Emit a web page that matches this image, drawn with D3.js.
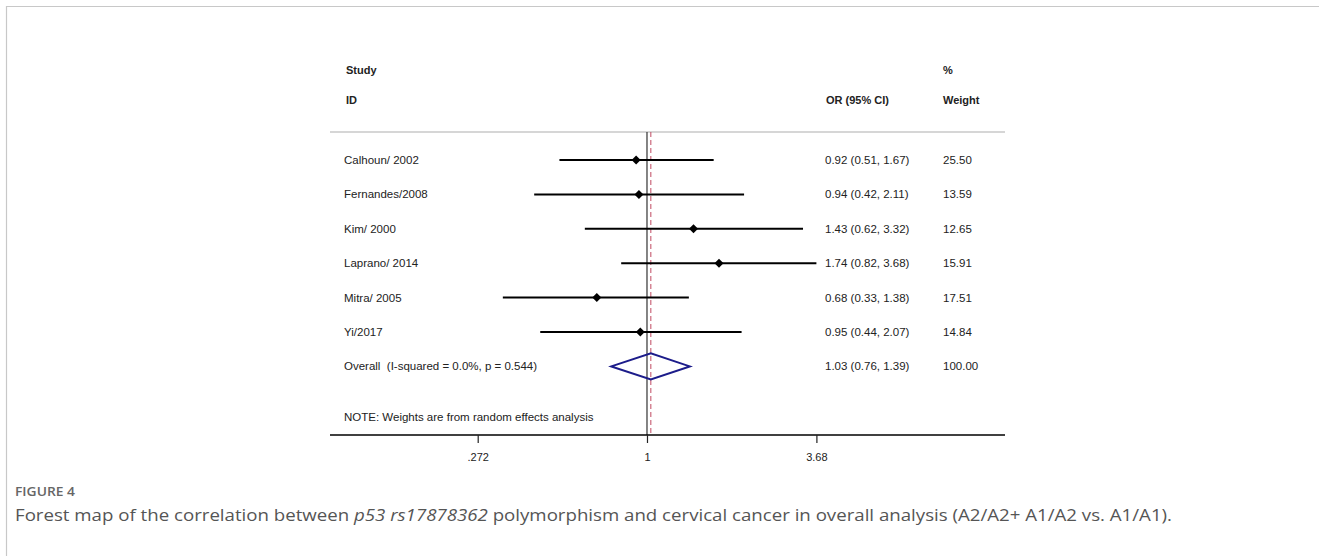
<!DOCTYPE html>
<html>
<head>
<meta charset="utf-8">
<script src="https://cdn.jsdelivr.net/npm/d3@7"></script>
<style>
  body { margin: 0; background: #fff; }
  svg text { font-family: "Liberation Sans", Arial, sans-serif; white-space: pre; }
  svg text.cap { font-family: "Open Sans", "Noto Sans", sans-serif; }
</style>
</head>
<body>
<svg id="chart" width="1319" height="556"></svg>
<script>
var studies = ["Calhoun/ 2002", "Fernandes/2008", "Kim/ 2000", "Laprano/ 2014", "Mitra/ 2005", "Yi/2017"];
var orValues = [0.92, 0.94, 1.43, 1.74, 0.68, 0.95];
var lowerCI = [0.51, 0.42, 0.62, 0.82, 0.33, 0.44];
var upperCI = [1.67, 2.11, 3.32, 3.68, 1.38, 2.07];
var weights = ["25.50", "13.59", "12.65", "15.91", "17.51", "14.84"];
var overall = {label: "Overall  (I-squared = 0.0%, p = 0.544)", or: 1.03, lo: 0.76, hi: 1.39, weight: "100.00"};
var tickValues = [0.272, 1, 3.68];
var tickLabels = [".272", "1", "3.68"];

var svg = d3.select("#chart");

var left = 330, right = 1005,
    rowTop = 160, rowStep = 34.4,
    axisY = 435, topLineY = 132,
    nameX = 344, ciX = 825, wtX = 943;

var x = d3.scaleLog()
    .domain([0.272, 3.68])
    .range([477.7, 816.4]);

var fmt = d3.format(".2f");
function ciText(o, l, h) { return fmt(o) + " (" + fmt(l) + ", " + fmt(h) + ")"; }

// page border
svg.append("line").attr("x1", 6).attr("x2", 1319).attr("y1", 6.5).attr("y2", 6.5)
    .attr("stroke", "#c8c8c8").attr("stroke-width", 1.2);
svg.append("line").attr("x1", 6.5).attr("x2", 6.5).attr("y1", 6).attr("y2", 556)
    .attr("stroke", "#c8c8c8").attr("stroke-width", 1.2);

// header
var head = svg.append("g").attr("font-size", 11).attr("font-weight", "bold").attr("fill", "#222");
head.append("text").attr("x", nameX + 2).attr("y", 74).text("Study");
head.append("text").attr("x", nameX + 2).attr("y", 104).text("ID");
head.append("text").attr("x", ciX + 1).attr("y", 104).text("OR (95% CI)");
head.append("text").attr("x", wtX).attr("y", 74).text("%");
head.append("text").attr("x", wtX).attr("y", 104).text("Weight");

svg.append("line").attr("x1", left).attr("x2", right).attr("y1", topLineY).attr("y2", topLineY)
    .attr("stroke", "#c9c9c9").attr("stroke-width", 1.3);

// reference lines
svg.append("line").attr("x1", x(1)).attr("x2", x(1)).attr("y1", topLineY).attr("y2", axisY)
    .attr("stroke", "#333").attr("stroke-width", 1.2);
svg.append("line").attr("x1", x(overall.or)).attr("x2", x(overall.or)).attr("y1", topLineY).attr("y2", axisY)
    .attr("stroke", "#c04a62").attr("stroke-width", 1).attr("stroke-dasharray", "5,3");

var rowY = function(i) { return rowTop + i * rowStep; };

var rows = svg.selectAll(".row")
    .data(studies)
  .enter().append("g")
    .attr("class", "row");

rows.append("line")
    .attr("x1", function(d, i) { return x(lowerCI[i]); })
    .attr("x2", function(d, i) { return x(upperCI[i]); })
    .attr("y1", function(d, i) { return rowY(i); })
    .attr("y2", function(d, i) { return rowY(i); })
    .attr("stroke", "#000").attr("stroke-width", 2);

rows.append("path")
    .attr("d", function(d, i) {
      var cx = x(orValues[i]), cy = rowY(i), r = 4.5;
      return "M" + (cx - r) + "," + cy + "L" + cx + "," + (cy - r) + "L" + (cx + r) + "," + cy + "L" + cx + "," + (cy + r) + "Z";
    })
    .attr("fill", "#000");

var rowText = svg.append("g").attr("font-size", 11.5).attr("fill", "#222");
rowText.selectAll(".name").data(studies).enter().append("text")
    .attr("x", nameX).attr("y", function(d, i) { return rowY(i) + 4; })
    .text(function(d) { return d; });
rowText.selectAll(".ci").data(studies).enter().append("text")
    .attr("x", ciX).attr("y", function(d, i) { return rowY(i) + 4; })
    .text(function(d, i) { return ciText(orValues[i], lowerCI[i], upperCI[i]); });
rowText.selectAll(".wt").data(weights).enter().append("text")
    .attr("x", wtX).attr("y", function(d, i) { return rowY(i) + 4; })
    .text(function(d) { return d; });

// overall
var oy = rowY(studies.length);
svg.append("path")
    .attr("d", "M" + x(overall.lo) + "," + oy + "L" + x(overall.or) + "," + (oy - 13) +
               "L" + x(overall.hi) + "," + oy + "L" + x(overall.or) + "," + (oy + 13) + "Z")
    .attr("fill", "none").attr("stroke", "#1c1c8a").attr("stroke-width", 2);
rowText.append("text").attr("x", nameX).attr("y", oy + 4).text(overall.label);
rowText.append("text").attr("x", ciX).attr("y", oy + 4).text(ciText(overall.or, overall.lo, overall.hi));
rowText.append("text").attr("x", wtX).attr("y", oy + 4).text(overall.weight);

rowText.append("text").attr("x", nameX).attr("y", 421).text("NOTE: Weights are from random effects analysis");

// axis
svg.append("line").attr("x1", left).attr("x2", right).attr("y1", axisY).attr("y2", axisY)
    .attr("stroke", "#000").attr("stroke-width", 1.3);

var axis = d3.axisBottom(x)
    .tickValues(tickValues)
    .tickSize(8)
    .tickPadding(10)
    .tickFormat(function(d, i) { return tickLabels[i]; });

var ag = svg.append("g")
    .attr("transform", "translate(0," + axisY + ")")
    .call(axis);
ag.select(".domain").remove();
ag.selectAll(".tick line").attr("stroke", "#222").attr("stroke-width", 1.2);
ag.selectAll(".tick text").attr("font-size", 11).attr("fill", "#222")
    .attr("font-family", "Liberation Sans, Arial, sans-serif");

// caption
svg.append("text").attr("class", "cap").attr("x", 15).attr("y", 496)
    .attr("font-size", 13).attr("font-weight", 600).attr("fill", "#666")
    .attr("textLength", 60).attr("lengthAdjust", "spacingAndGlyphs")
    .text("FIGURE 4");
var cap = svg.append("text").attr("class", "cap").attr("x", 15).attr("y", 521)
    .attr("font-size", 16).attr("fill", "#555")
    .attr("textLength", 1157).attr("lengthAdjust", "spacingAndGlyphs");
cap.append("tspan").text("Forest map of the correlation between ");
cap.append("tspan").attr("font-style", "italic").text("p53 rs17878362");
cap.append("tspan").text(" polymorphism and cervical cancer in overall analysis (A2/A2+ A1/A2 vs. A1/A1).");
</script>
</body>
</html>
